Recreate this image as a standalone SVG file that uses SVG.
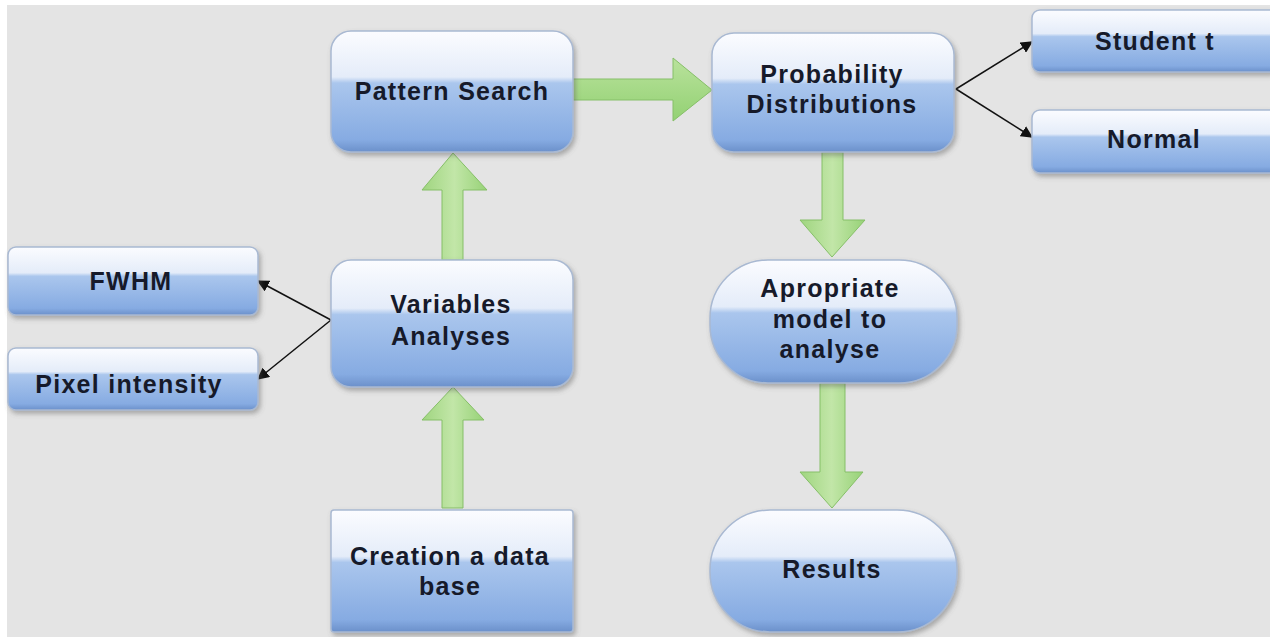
<svg xmlns="http://www.w3.org/2000/svg" width="1270" height="637" viewBox="0 0 1270 637">
  <defs>
    <linearGradient id="gloss" x1="0" y1="0" x2="0" y2="1">
      <stop offset="0" stop-color="#fbfcff"/>
      <stop offset="0.38" stop-color="#e4ecf9"/>
      <stop offset="0.43" stop-color="#aac6ed"/>
      <stop offset="0.90" stop-color="#86abe2"/>
      <stop offset="1" stop-color="#6b90ca"/>
    </linearGradient>
    <linearGradient id="greenV" x1="0" y1="0" x2="1" y2="0">
      <stop offset="0" stop-color="#9fd57f"/>
      <stop offset="0.5" stop-color="#c2e6a8"/>
      <stop offset="1" stop-color="#97d277"/>
    </linearGradient>
    <linearGradient id="greenH" x1="0" y1="0" x2="0" y2="1">
      <stop offset="0" stop-color="#b9e29c"/>
      <stop offset="1" stop-color="#93d173"/>
    </linearGradient>
    <filter id="shadow" x="-10%" y="-10%" width="125%" height="130%">
      <feDropShadow dx="2" dy="3" stdDeviation="2.5" flood-color="#5a5a5a" flood-opacity="0.45"/>
    </filter>
    <marker id="tip" viewBox="0 0 10 10" refX="9" refY="5" markerWidth="12" markerHeight="12" markerUnits="userSpaceOnUse" orient="auto">
      <path d="M0,0 L10,5 L0,10 z" fill="#111"/>
    </marker>
    <style>
      .box { fill: url(#gloss); stroke: #a9b9d2; stroke-width: 1.5; filter: url(#shadow); }
      .lbl { font-family: "Liberation Sans", Arial, sans-serif; font-weight: bold; font-size: 25px; letter-spacing: 1.3px; fill: #161a2a; text-anchor: middle; }
      .fat-v { fill: url(#greenV); stroke: #86bf68; stroke-width: 1; }
      .fat-h { fill: url(#greenH); stroke: #86bf68; stroke-width: 1; }
      .thin { stroke: #111; stroke-width: 1.5; fill: none; marker-end: url(#tip); }
    </style>
  </defs>

  <!-- canvas -->
  <rect x="0" y="0" width="1270" height="637" fill="#ffffff"/>
  <rect x="7" y="5" width="1263" height="632" fill="#e4e4e4"/>

  <!-- connectors -->
  <g id="connectors">
    <!-- Pattern Search to Probability Distributions -->
    <path class="fat-h" d="M572,79 H673 V58 L712,90 L673,121 V100 H572 Z"/>
    <!-- Variables Analyses to Pattern Search -->
    <path class="fat-v" d="M442,260 V190 H422 L453,153 L487,190 H463 V260 Z"/>
    <!-- Creation a data base to Variables Analyses -->
    <path class="fat-v" d="M442,508 V420 H422 L453,387 L484,420 H463 V508 Z"/>
    <!-- Probability Distributions to Apropriate model -->
    <path class="fat-v" d="M822,152 V220 H800 L832,257 L865,220 H843 V152 Z"/>
    <!-- Apropriate model to Results -->
    <path class="fat-v" d="M820,383 V472 H800 L832,508 L863,472 H845 V383 Z"/>
    <!-- thin arrows -->
    <line class="thin" x1="956" y1="89" x2="1032" y2="42"/>
    <line class="thin" x1="956" y1="89" x2="1032" y2="137"/>
    <line class="thin" x1="331" y1="320" x2="258" y2="281"/>
    <line class="thin" x1="331" y1="320" x2="258" y2="379"/>
  </g>

  <g id="pattern-search">
    <rect class="box" x="331" y="31" width="242" height="121" rx="20"/>
    <text class="lbl" x="452" y="100">Pattern  Search</text>
  </g>

  <g id="probability-distributions">
    <rect class="box" x="712" y="33" width="242" height="119" rx="22"/>
    <text class="lbl" x="832" y="83">Probability</text>
    <text class="lbl" x="832" y="113">Distributions</text>
  </g>

  <g id="student-t">
    <rect class="box" x="1032" y="10" width="246" height="62" rx="8"/>
    <text class="lbl" x="1155" y="50">Student t</text>
  </g>

  <g id="normal">
    <rect class="box" x="1032" y="110" width="246" height="63" rx="8"/>
    <text class="lbl" x="1154" y="148">Normal</text>
  </g>

  <g id="fwhm">
    <rect class="box" x="8" y="247" width="250" height="68" rx="8"/>
    <text class="lbl" x="131" y="290">FWHM</text>
  </g>

  <g id="pixel-intensity">
    <rect class="box" x="8" y="348" width="250" height="62" rx="8"/>
    <text class="lbl" x="129" y="393">Pixel intensity</text>
  </g>

  <g id="variables-analyses">
    <rect class="box" x="331" y="260" width="242" height="127" rx="20"/>
    <text class="lbl" x="451" y="313">Variables</text>
    <text class="lbl" x="451" y="345">Analyses</text>
  </g>

  <g id="creation-data-base">
    <rect class="box" x="331" y="510" width="242" height="122" rx="3"/>
    <text class="lbl" x="450" y="565">Creation a data</text>
    <text class="lbl" x="450" y="595">base</text>
  </g>

  <g id="apropriate-model">
    <rect class="box" x="710" y="260" width="247" height="123" rx="58"/>
    <text class="lbl" x="830" y="297">Apropriate</text>
    <text class="lbl" x="830" y="328">model to</text>
    <text class="lbl" x="830" y="358">analyse</text>
  </g>

  <g id="results">
    <rect class="box" x="710" y="510" width="247" height="122" rx="60"/>
    <text class="lbl" x="832" y="578">Results</text>
  </g>
</svg>
